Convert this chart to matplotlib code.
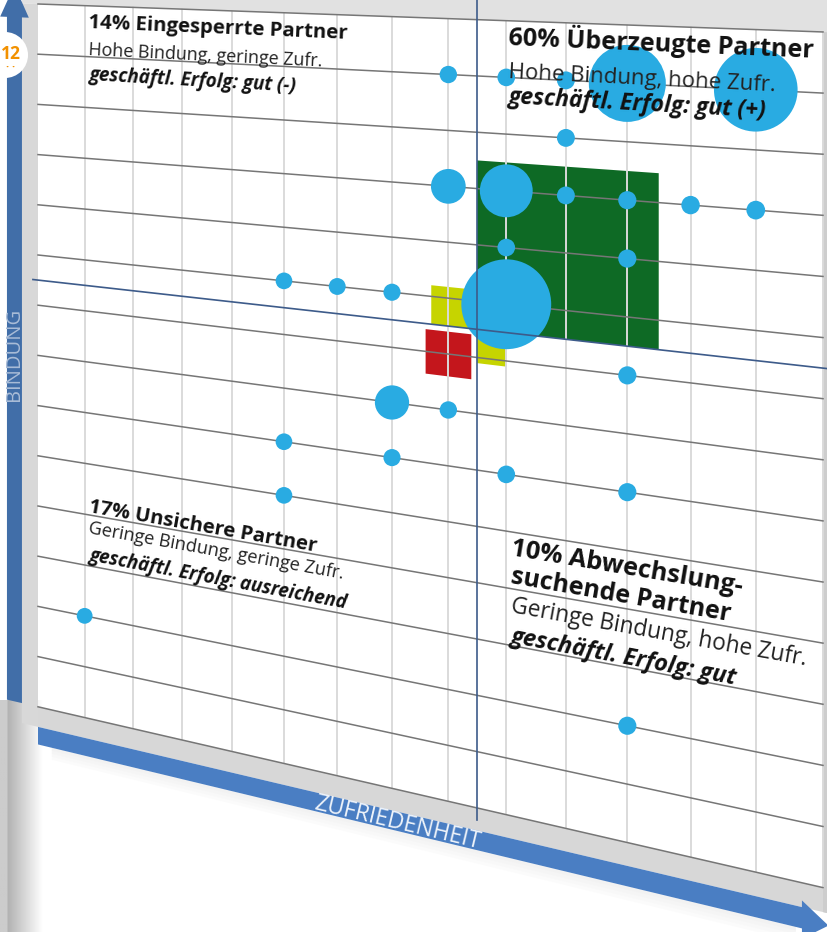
import numpy as np
import matplotlib.pyplot as plt
import matplotlib.transforms as mtransforms
from matplotlib.patches import Polygon, Rectangle, Circle

# Partner-Portfolio: Zufriedenheit (x, Spalten 0..14) / Bindung (y, Zeilen 0..14)
zufriedenheit = [8, 9, 10, 11, 13, 10, 8, 9, 10, 11, 12, 13, 9, 11,
                 5, 6, 7, 9, 11, 7, 8, 5, 7, 9, 11, 5, 1, 11]
bindung = [13, 13, 13, 13, 13, 12, 11, 11, 11, 11, 11, 11, 10, 10,
           9, 9, 9, 9, 8, 7, 7, 6, 6, 6, 6, 5, 2, 2]
anzahl = [1, 1, 1, 18, 20, 1, 4, 9, 1, 1, 1, 1, 1, 1,
          1, 1, 1, 26, 1, 4, 1, 1, 1, 1, 1, 1, 1, 1]

# Quadranten-Flächen um das Achsenkreuz (8.5 / 8.5)
felder = ['Überzeugte', 'Eingesperrte', 'Abwechslungsuchende', 'Unsichere']
felder_x0 = [8.5, 7.7, 8.5, 7.6]
felder_x1 = [11.5, 8.5, 9.0, 8.4]
felder_y0 = [8.5, 8.5, 7.9, 7.6]
felder_y1 = [11.5, 9.2, 8.5, 8.4]
achse_x = 8.5
achse_y = 8.5

# Quadranten-Texte: (Text, Zufriedenheit, Bindung)
titel = [('14% Eingesperrte Partner', 1.07, 13.56),
         ('60% Überzeugte Partner', 9.03, 13.57),
         ('17% Unsichere Partner', 1.07, 4.05),
         ('10% Abwechslung-', 9.06, 4.59),
         ('suchende Partner', 9.06, 4.10)]
untertitel = [('Hohe Bindung, geringe Zufr.', 1.07, 13.03),
              ('Hohe Bindung, hohe Zufr.', 9.03, 12.99),
              ('Geringe Bindung, geringe Zufr.', 1.07, 3.64),
              ('Geringe Bindung, hohe Zufr.', 9.06, 3.58)]
erfolg = [('geschäftl. Erfolg: gut (-)', 1.07, 12.54),
          ('geschäftl. Erfolg: gut (+)', 9.03, 12.55),
          ('geschäftl. Erfolg: ausreichend', 1.07, 3.11),
          ('geschäftl. Erfolg: gut', 9.06, 3.06)]

# Perspektive (Drehung um die senkrechte Achse), Pixel des Bildes
K11, K13, K31 = 45.57, 38.0, -0.01276
K21, K22, K23 = 1.59, 50.2, 4.0


class Schraeg(mtransforms.Transform):
    input_dims = 2
    output_dims = 2

    def transform_non_affine(self, values):
        v = np.asarray(values, dtype=float)
        flach = v.ndim == 1
        v = v.reshape(-1, 2)
        u, b = v[:, 0], v[:, 1]
        nenner = 1 + K31 * u
        x = (K11 * u + K13) / nenner
        y = (K21 * u + K22 * (14 - b) + K23) / nenner
        out = np.column_stack([x, y])
        return out[0] if flach else out


FONT = ['Open Sans', 'DejaVu Sans']

fig = plt.figure(figsize=(8.27, 9.32), dpi=100)
ax = fig.add_axes([0, 0, 1, 1])
ax.set_xlim(0, 827)
ax.set_ylim(932, 0)
ax.axis('off')
P = Schraeg() + ax.transData

# Rahmen / Hintergrund
verlauf = np.ones((2, 60))
xs = np.linspace(0, 45, 60)
verlauf[:] = np.clip(0.70 + 0.30 * (xs - 8) / 35, 0.70, 1.0)
verlauf[:, xs < 7] = 0.80
ax.imshow(np.dstack([verlauf] * 3), extent=[0, 45, 932, 700], aspect='auto', zorder=0)
ax.add_patch(Polygon([(-0.35, 14.0), (14.2, 14.0), (14.2, 14.8), (-0.35, 14.8)],
                     closed=True, color='#e1e1e1', lw=0, transform=P, zorder=0.5))
ax.add_patch(Polygon([(-0.35, -0.4), (0, -0.4), (0, 14.0), (-0.35, 14.0)],
                     closed=True, color='#d8d8d8', lw=0, transform=P, zorder=0.5))
ax.add_patch(Polygon([(0, -0.4), (14.2, -0.4), (14.2, 0), (0, 0)],
                     closed=True, color='#d7d7d7', lw=0, transform=P, zorder=0.5))
ax.add_patch(Polygon([(14.0, -0.4), (14.2, -0.4), (14.2, 14.0), (14.0, 14.0)],
                     closed=True, color='#cdcdcd', lw=0, transform=P, zorder=0.5))
for k in range(4):
    d = 0.06 * (k + 1)
    ax.add_patch(Polygon([(0.3, -0.75), (13.6, -0.75), (13.6, -0.75 - d), (0.3, -0.75 - d)],
                         closed=True, color='#b0b0b0', alpha=0.04, lw=0, transform=P, zorder=0.6))

# Achsenpfeile
ax.add_patch(Polygon([(-0.68, 0.0), (-0.35, 0.0), (-0.35, 13.72), (-0.2, 13.72),
                      (-0.515, 14.36), (-0.83, 13.72), (-0.68, 13.72)],
                     closed=True, color='#416ea8', lw=0, transform=P, zorder=0.8))
ax.add_patch(Polygon([(0, -0.4), (13.69, -0.4), (13.69, -0.29), (14.08, -0.6),
                      (13.69, -0.92), (13.69, -0.75), (0, -0.75)],
                     closed=True, color='#4a7ec3', lw=0, transform=P, zorder=0.8))
ax.text(-0.515, 6.95, 'BINDUNG', transform=P, transform_rotates_text=True, rotation=90,
        rotation_mode='anchor', ha='center', va='center', fontsize=14.5, color='#a9bcd7',
        family=FONT, zorder=1)
ax.text(7.09, -0.6, 'ZUFRIEDENHEIT', transform=P, transform_rotates_text=True, rotation=0,
        rotation_mode='anchor', ha='center', va='center', fontsize=16.5, color='#eef3fa',
        family=FONT, zorder=1)

# Quadranten-Flächen
farben = {'Überzeugte': '#0e6a25', 'Eingesperrte': '#c6d400',
          'Abwechslungsuchende': '#c6d400', 'Unsichere': '#c4161c'}
for name, x0, x1, y0, y1 in zip(felder, felder_x0, felder_x1, felder_y0, felder_y1):
    ax.add_patch(Rectangle((x0, y0), x1 - x0, y1 - y0, color=farben[name], lw=0,
                           transform=P, zorder=1.5))

# Raster
for k in range(1, 15):
    ax.plot([k, k], [0, 14], color='#dadada', lw=1.4, transform=P, zorder=2)
for k in range(15):
    ax.plot([0, 14], [k, k], color='#767676', lw=1.1, transform=P, zorder=2.1)

# Blasen (Fläche ~ Anzahl, perspektivisch vergrößert)
u = np.array(zufriedenheit, dtype=float)
r_px = 7.8 * np.sqrt(np.array(anzahl, dtype=float)) / (1 + K31 * u)
groesse = (2 * r_px * 72 / fig.dpi) ** 2
ax.scatter(zufriedenheit, bindung, s=groesse, color='#29abe2', linewidths=0,
           transform=P, zorder=3)

# Achsenkreuz
ax.plot([achse_x, achse_x], [14.45, -0.22], color='#3d5b8a', lw=1.2, transform=P, zorder=4)
ax.plot([-0.11, 14.1], [achse_y, achse_y], color='#3d5b8a', lw=1.2, transform=P, zorder=4)

# Beschriftung der Quadranten
groessen_titel = [14.7, 18.1, 14.6, 18.3, 18.0]
groessen_unter = [12.9, 16.0, 13.1, 16.4]
groessen_erfolg = [13.6, 16.6, 13.5, 16.9]


def beschrifte(eintraege, groessen, **stil):
    for (text, x, y), fs in zip(eintraege, groessen):
        ax.text(x, y, text, transform=P, transform_rotates_text=True, rotation=0,
                rotation_mode='anchor', ha='left', va='baseline', fontsize=fs,
                family=FONT, zorder=5, **stil)


beschrifte(titel, groessen_titel, fontweight='bold', color='#111111')
beschrifte(untertitel, groessen_unter, color='#222222')
beschrifte(erfolg, groessen_erfolg, fontweight='bold', fontstyle='italic', color='#111111')

# Seitenzahl
ax.add_patch(Circle((5, 55), 23, color='white', lw=0, zorder=6))
ax.text(11, 54, '12', ha='center', va='center', fontsize=12.5, fontweight='bold',
        color='#f29100', family=FONT, zorder=7)
ax.text(11, 67, '· ·', ha='center', va='center', fontsize=8, fontweight='bold',
        color='#f29100', family=FONT, zorder=7)

fig.savefig('out.png', dpi=100)
